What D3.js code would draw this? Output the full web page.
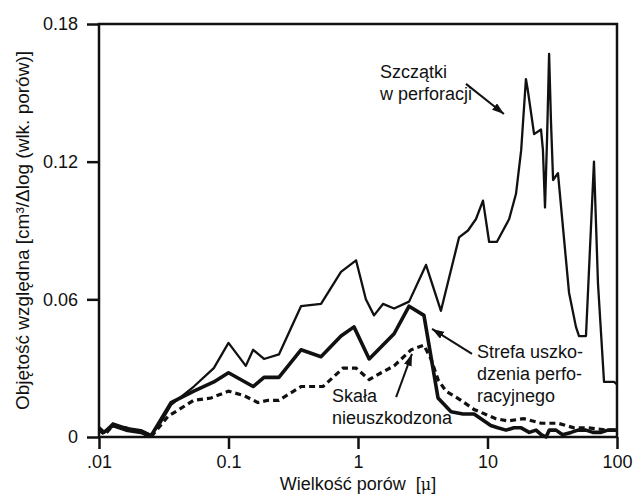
<!DOCTYPE html>
<html>
<head>
<meta charset="utf-8">
<script src="https://cdn.jsdelivr.net/npm/d3@7"></script>
<style>
  body { margin: 0; background: #fff; }
  svg text { font-family: "Liberation Sans", Arial, sans-serif; fill: #111; }
</style>
</head>
<body>
<div id="chart"></div>
<script>
//********** DATA **********
// x ticks
var xTicks = [0.01, 0.1, 1, 10, 100];
var xTickLabels = [".01", "0.1", "1", "10", "100"];
// y ticks
var yTicks = [0, 0.06, 0.12, 0.18];
var yTickLabels = ["0", "0.06", "0.12", "0.18"];

// Szczątki w perforacji (thin line)
var debrisSize = [0.01,0.0109,0.0128,0.0162,0.0211,0.0252,0.0291,0.036,0.054,0.077,0.1,0.136,0.155,0.188,0.245,0.363,0.518,0.739,0.966,1.15,1.33,1.56,1.9,2.48,3.35,4.37,6.03,7.07,8.15,9.23,10.3,11.8,14.7,16.6,18.2,19.8,20.5,22.9,25.9,26.8,27.8,28.8,29.9,30.9,32.1,35.0,42.6,48.2,50.9,57.6,66.4,71.3,79.4,94.8,100];
var debrisVol = [0.004,0.002,0.006,0.004,0.003,0.001,0.005,0.014,0.022,0.030,0.041,0.031,0.038,0.034,0.036,0.057,0.058,0.072,0.077,0.060,0.053,0.058,0.056,0.059,0.075,0.055,0.087,0.090,0.095,0.103,0.085,0.085,0.095,0.106,0.125,0.156,0.151,0.132,0.134,0.125,0.100,0.129,0.167,0.138,0.112,0.115,0.063,0.048,0.044,0.044,0.120,0.067,0.024,0.024,0.023];

// Strefa uszkodzenia perforacyjnego (thick line)
var damageSize = [0.01,0.0109,0.0128,0.0162,0.0211,0.0252,0.036,0.054,0.077,0.1,0.155,0.188,0.245,0.363,0.518,0.739,0.931,1.22,1.9,2.48,3.23,4.15,5.23,6.47,7.87,10.6,12,13.9,16,18.2,21,23.7,26,28.3,30,33.8,38,44.2,50,57.6,65,75.2,85,100];
var damageVol = [0.004,0.002,0.005,0.003,0.002,0.0005,0.015,0.020,0.024,0.028,0.022,0.026,0.026,0.038,0.035,0.044,0.048,0.034,0.045,0.057,0.053,0.017,0.011,0.010,0.010,0.005,0.004,0.003,0.004,0.004,0.002,0.003,0.001,0,0.003,0.003,0.001,0.002,0.003,0.003,0.002,0.002,0.003,0.003];

// Skała nieuszkodzona (dashed line)
var intactSize = [0.01,0.0111,0.0128,0.0162,0.0211,0.0252,0.0341,0.054,0.0733,0.1,0.132,0.169,0.202,0.245,0.363,0.537,0.766,0.966,1.22,1.51,1.9,2.57,3.23,3.66,4.15,4.78,6.24,7.87,11.6,14.4,19.1,25.9,35,46.6,60,85.3,100];
var intactVol = [0.003,0.001,0.005,0.004,0.002,0,0.009,0.016,0.017,0.020,0.018,0.015,0.016,0.016,0.022,0.022,0.030,0.030,0.025,0.028,0.031,0.038,0.040,0.034,0.025,0.020,0.016,0.012,0.008,0.007,0.008,0.006,0.006,0.004,0.004,0.003,0.003];

//********** CHART **********
var width = 633, height = 494;
var margin = {top: 24, right: 16, bottom: 57, left: 99};
var fontSize = "18px";

var svg = d3.select("#chart")
            .append("svg")
            .attr("width", width)
            .attr("height", height);

var x = d3.scaleLog()
          .domain([0.01, 100])
          .range([margin.left, width - margin.right]);
var y = d3.scaleLinear()
          .domain([0, 0.18])
          .range([height - margin.bottom, margin.top]);

// axes
var xAxis = svg.append("g")
    .attr("transform", "translate(0," + y(0) + ")")
    .call(d3.axisBottom(x)
        .tickValues(xTicks)
        .tickFormat(function(d, i){ return xTickLabels[i]; })
        .tickSize(12)
        .tickPadding(6));
var yAxis = svg.append("g")
    .attr("transform", "translate(" + x(0.01) + ",0)")
    .call(d3.axisLeft(y)
        .tickValues(yTicks)
        .tickFormat(function(d, i){ return yTickLabels[i]; })
        .tickSize(12)
        .tickPadding(9));

[xAxis, yAxis].forEach(function(g){
    g.select(".domain").remove();
    g.selectAll(".tick line").attr("stroke", "#111").attr("stroke-width", 2.5);
    g.selectAll(".tick text")
        .style("font-size", fontSize)
        .style("font-family", "'Liberation Sans', Arial, sans-serif")
        .attr("fill", "#111");
});

// frame
svg.append("rect")
    .attr("x", x(0.01))
    .attr("y", y(0.18))
    .attr("width", x(100) - x(0.01))
    .attr("height", y(0) - y(0.18))
    .attr("fill", "none")
    .attr("stroke", "#111")
    .attr("stroke-width", 2.5);

// axis titles
var xTitle = svg.append("text")
    .attr("x", x(1))
    .attr("y", 490)
    .attr("text-anchor", "middle")
    .style("font-size", fontSize);
xTitle.append("tspan").text("Wielkość porów\u00a0\u00a0[");
xTitle.append("tspan").style("font-family", "'DejaVu Serif', serif").style("font-size", "16px").text("μ");
xTitle.append("tspan").text("]");

svg.append("text")
    .attr("transform", "translate(29," + ((y(0) + y(0.18)) / 2) + ") rotate(-90)")
    .attr("text-anchor", "middle")
    .style("font-size", "19px")
    .text("Objętość względna [cm³/Δlog (wlk. porów)]");

// lines
var line = d3.line()
    .x(function(d){ return x(d[0]); })
    .y(function(d){ return y(d[1]); });

function pairs(xs, ys){
    return xs.map(function(v, i){ return [v, ys[i]]; });
}

svg.append("path")
    .datum(pairs(intactSize, intactVol))
    .attr("d", line)
    .attr("fill", "none")
    .attr("stroke", "#111")
    .attr("stroke-width", 3.2)
    .attr("stroke-dasharray", "6,4");

svg.append("path")
    .datum(pairs(damageSize, damageVol))
    .attr("d", line)
    .attr("fill", "none")
    .attr("stroke", "#111")
    .attr("stroke-width", 3.6)
    .attr("stroke-linejoin", "round");

svg.append("path")
    .datum(pairs(debrisSize, debrisVol))
    .attr("d", line)
    .attr("fill", "none")
    .attr("stroke", "#111")
    .attr("stroke-width", 2.3)
    .attr("stroke-linejoin", "round");

// annotations
svg.append("defs").append("marker")
    .attr("id", "arrow")
    .attr("markerUnits", "userSpaceOnUse")
    .attr("viewBox", "0 0 12 8")
    .attr("refX", 12)
    .attr("refY", 4)
    .attr("markerWidth", 12)
    .attr("markerHeight", 8)
    .attr("orient", "auto")
    .append("path")
    .attr("d", "M0,0 L12,4 L0,8 Z")
    .attr("fill", "#111");

var arrows = [
    {from: [6.82, 0.1539], to: [13.4, 0.1408]},
    {from: [7.59, 0.0362], to: [3.73, 0.0471]},
    {from: [1.97, 0.0174], to: [2.61, 0.0362]}
];
arrows.forEach(function(a){
    svg.append("line")
        .attr("x1", x(a.from[0])).attr("y1", y(a.from[1]))
        .attr("x2", x(a.to[0])).attr("y2", y(a.to[1]))
        .attr("stroke", "#111")
        .attr("stroke-width", 2)
        .attr("marker-end", "url(#arrow)");
});

var notes = [
    {x: 380, y: 78, lines: ["Szczątki", "w perforacji"]},
    {x: 477, y: 358, lines: ["Strefa uszko-", "dzenia perfo-", "racyjnego"]},
    {x: 332, y: 402, lines: ["Skała", "nieuszkodzona"]}
];
notes.forEach(function(n){
    var t = svg.append("text")
        .attr("x", n.x)
        .attr("y", n.y)
        .style("font-size", fontSize);
    n.lines.forEach(function(s, i){
        t.append("tspan")
            .attr("x", n.x)
            .attr("dy", i === 0 ? 0 : 22)
            .text(s);
    });
});
</script>
</body>
</html>
